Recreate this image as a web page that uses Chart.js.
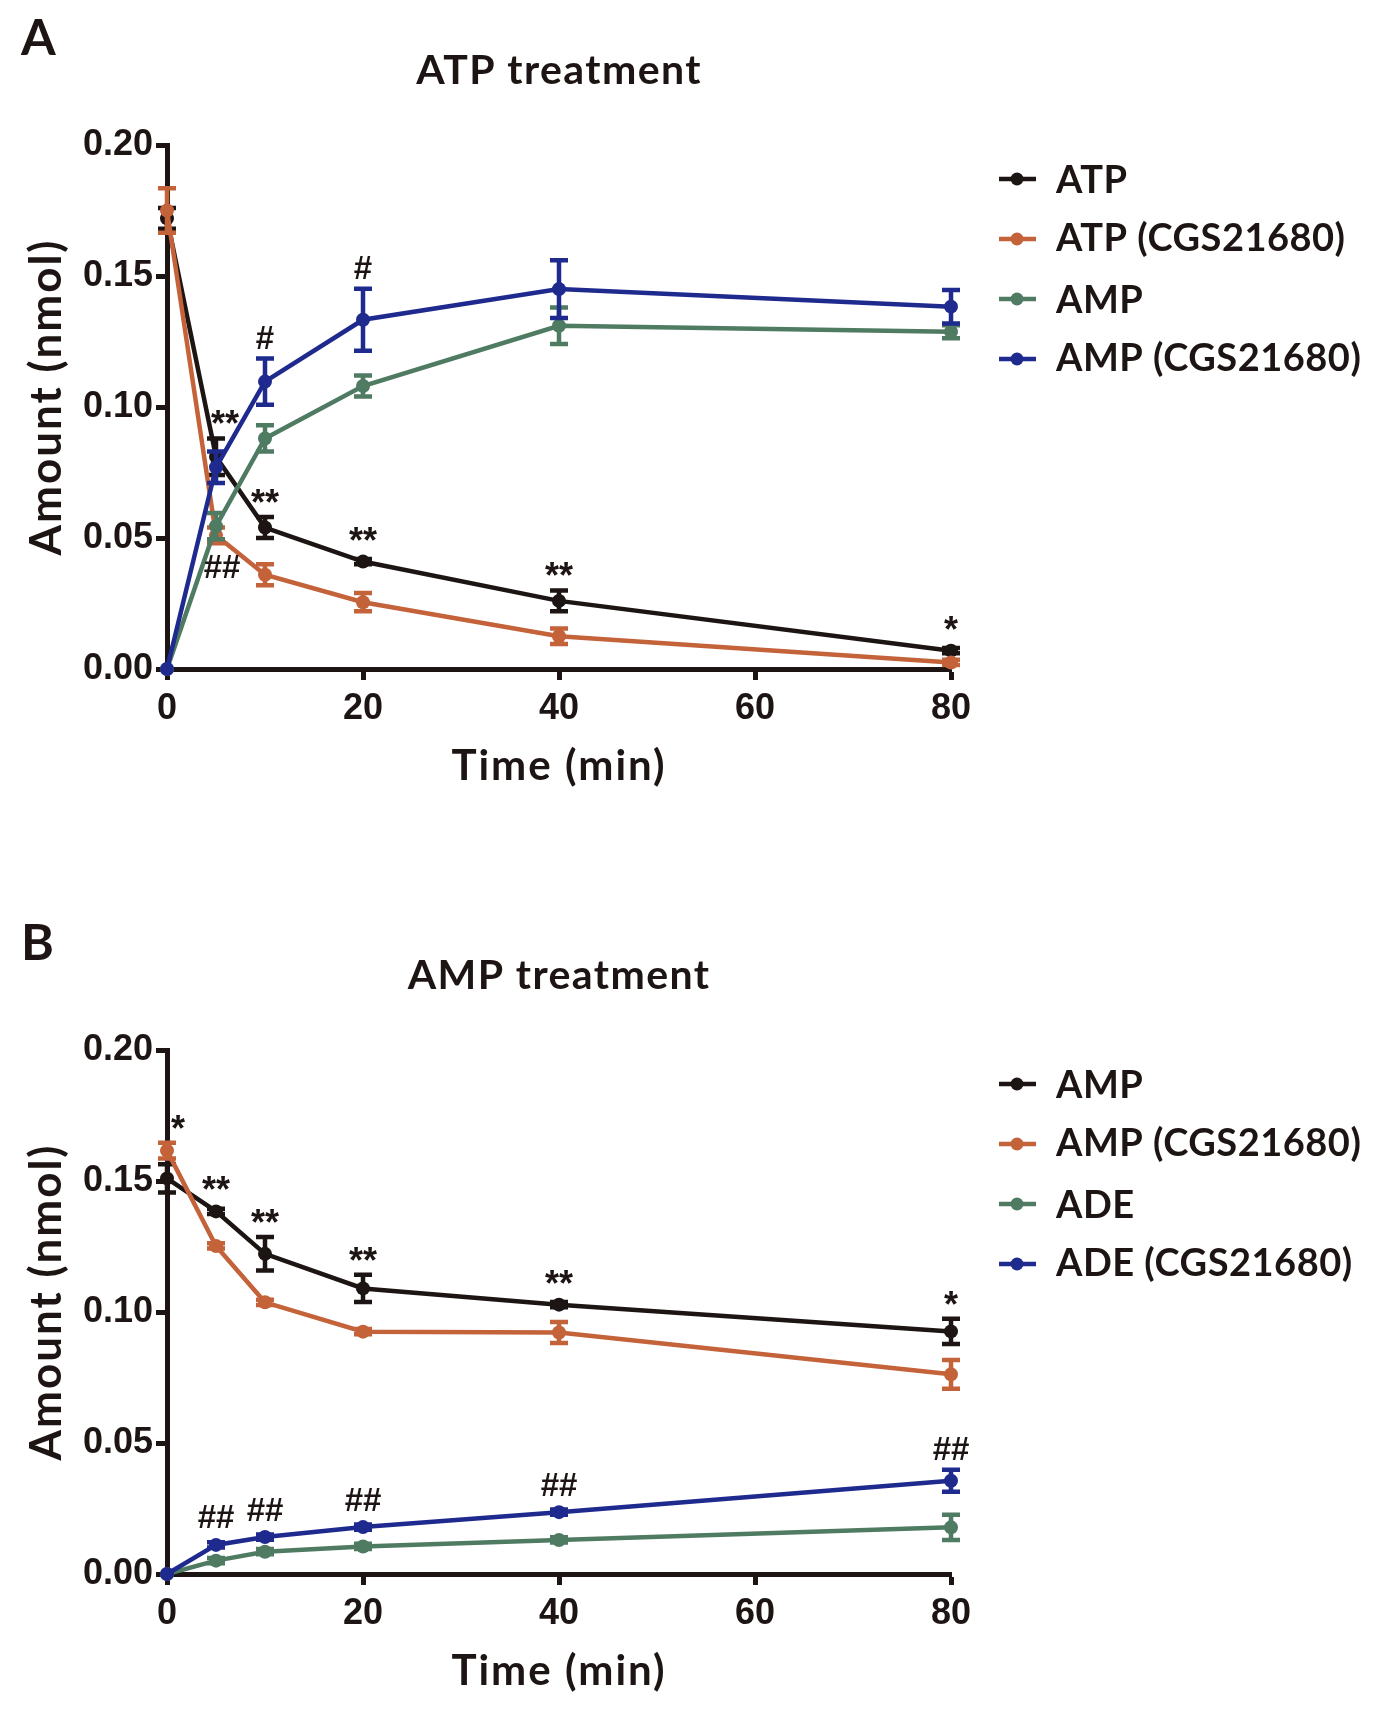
<!DOCTYPE html>
<html>
<head>
<meta charset="utf-8">
<script src="https://cdn.jsdelivr.net/npm/chart.js@4.4.1/dist/chart.umd.min.js"></script>
<style>
    html, body { margin: 0; padding: 0; background: #fff; }
    body { width: 1377px; height: 1710px; position: relative; overflow: hidden; }
    canvas { position: absolute; left: 0; }
    #panel-a { top: 0; }
    #panel-b { top: 905px; }
</style>
</head>
<body>
<canvas id="panel-a" width="1377" height="905"></canvas>
<canvas id="panel-b" width="1377" height="805"></canvas>
<script>
const times = [0, 5, 10, 20, 40, 80];
const xTicks = [0, 20, 40, 60, 80];
const yTicks = [0, 0.05, 0.1, 0.15, 0.2];

// Panel A: ATP treatment
const atpMean = [0.172, 0.081, 0.054, 0.041, 0.026, 0.007];
const atpErr = [0.004, 0.007, 0.004, 0.001, 0.004, 0.001];
const atpCgsMean = [0.175, 0.051, 0.036, 0.0255, 0.0125, 0.0025];
const atpCgsErr = [0.0085, 0.003, 0.004, 0.0035, 0.003, 0.001];
const ampMean = [0, 0.0545, 0.088, 0.108, 0.131, 0.1287];
const ampErr = [0, 0.005, 0.005, 0.004, 0.007, 0.0025];
const ampCgsMean = [0, 0.077, 0.1097, 0.1333, 0.145, 0.1383];
const ampCgsErr = [0, 0.006, 0.0088, 0.0118, 0.011, 0.0064];

// Panel B: AMP treatment
const ampBMean = [0.151, 0.1384, 0.1222, 0.109, 0.1028, 0.0926];
const ampBErr = [0.0054, 0.001, 0.0064, 0.0052, 0.001, 0.0048];
const ampCgsBMean = [0.1616, 0.1252, 0.1037, 0.0925, 0.0922, 0.0762];
const ampCgsBErr = [0.003, 0.001, 0.001, 0.001, 0.004, 0.0055];
const adeMean = [0, 0.0051, 0.0085, 0.0105, 0.013, 0.0178];
const adeErr = [0, 0.001, 0.001, 0.001, 0.001, 0.0048];
const adeCgsMean = [0, 0.0111, 0.0141, 0.0179, 0.0236, 0.0356];
const adeCgsErr = [0, 0.001, 0.001, 0.001, 0.001, 0.0042];

const labelsA = ['ATP', 'ATP (CGS21680)', 'AMP', 'AMP (CGS21680)'];
const labelsB = ['AMP', 'AMP (CGS21680)', 'ADE', 'ADE (CGS21680)'];

// significance marks: series index, time index, text
const marksA = [
    { series: 0, at: 1, text: '**', dx: 9 },
    { series: 0, at: 2, text: '**' },
    { series: 0, at: 3, text: '**' },
    { series: 0, at: 4, text: '**' },
    { series: 0, at: 5, text: '*' },
    { series: 3, at: 2, text: '#' },
    { series: 3, at: 3, text: '#' },
    { series: 2, at: 1, text: '##', below: true, dx: 6 },
];
const marksB = [
    { series: 1, at: 0, text: '*', dx: 11 },
    { series: 0, at: 1, text: '**' },
    { series: 0, at: 2, text: '**' },
    { series: 0, at: 3, text: '**' },
    { series: 0, at: 4, text: '**' },
    { series: 0, at: 5, text: '*' },
    { series: 3, at: 1, text: '##' },
    { series: 3, at: 2, text: '##' },
    { series: 3, at: 3, text: '##' },
    { series: 3, at: 4, text: '##' },
    { series: 3, at: 5, text: '##' },
];

const colors = ['#1c1513', '#c4623a', '#4f7b63', '#1f2a8f'];
const ink = '#1c1513';
const textFont = 'Lato, "Open Sans", sans-serif';
const numFont = '"Liberation Sans", Arial, sans-serif';

const errorBars = {
    id: 'errorBars',
    afterDatasetDraw(chart, args) {
        const ds = chart.data.datasets[args.index];
        if (!ds.err) return;
        const { ctx, scales } = chart;
        ctx.save();
        ctx.strokeStyle = ds.borderColor;
        ctx.lineWidth = 4.5;
        ds.data.forEach((p, i) => {
            const e = ds.err[i];
            if (!e) return;
            const x = scales.x.getPixelForValue(p.x);
            const y1 = scales.y.getPixelForValue(p.y + e);
            const y2 = scales.y.getPixelForValue(p.y - e);
            ctx.beginPath();
            ctx.moveTo(x, y1);
            ctx.lineTo(x, y2);
            ctx.moveTo(x - 9, y1);
            ctx.lineTo(x + 9, y1);
            ctx.moveTo(x - 9, y2);
            ctx.lineTo(x + 9, y2);
            ctx.stroke();
        });
        ctx.restore();
    },
};

function centeredText(ctx, text, x, cy) {
    const m = ctx.measureText(text);
    const base = cy + (m.actualBoundingBoxAscent - m.actualBoundingBoxDescent) / 2;
    ctx.fillText(text, x, base);
}

function setFont(ctx, size, spacing) {
    ctx.font = `bold ${size}px ${textFont}`;
    ctx.letterSpacing = spacing ? spacing + 'px' : '0px';
}

const decorations = {
    id: 'decorations',
    afterDraw(chart, args, opts) {
        const { ctx, chartArea, scales } = chart;
        const midX = (chartArea.left + chartArea.right) / 2;
        ctx.save();
        ctx.fillStyle = ink;
        ctx.textAlign = 'left';
        ctx.textBaseline = 'alphabetic';

        setFont(ctx, 50, 0);
        ctx.fillText(opts.letter, 21, 55);

        ctx.textAlign = 'center';
        setFont(ctx, 41, 1.4);
        ctx.fillText(opts.title, midX, 84);

        setFont(ctx, 42, 2);
        ctx.fillText('Time (min)', midX, 780);

        ctx.save();
        ctx.translate(47, 397);
        ctx.rotate(-Math.PI / 2);
        setFont(ctx, 44, 2);
        centeredText(ctx, 'Amount (nmol)', 0, 0);
        ctx.restore();

        // legend
        chart.data.datasets.forEach((ds, i) => {
            const y = 179 + i * 60;
            ctx.strokeStyle = ds.borderColor;
            ctx.lineWidth = 4.5;
            ctx.beginPath();
            ctx.moveTo(999, y);
            ctx.lineTo(1036, y);
            ctx.stroke();
            ctx.fillStyle = ds.borderColor;
            ctx.beginPath();
            ctx.arc(1017, y, 6.5, 0, Math.PI * 2);
            ctx.fill();
            ctx.fillStyle = ink;
            ctx.textAlign = 'left';
            setFont(ctx, 38, 0.5);
            centeredText(ctx, ds.label, 1056, y);
        });

        // significance marks
        ctx.textAlign = 'center';
        ctx.letterSpacing = '0px';
        opts.marks.forEach((mk) => {
            const ds = chart.data.datasets[mk.series];
            const p = ds.data[mk.at];
            const e = ds.err[mk.at] || 0;
            const x = scales.x.getPixelForValue(p.x) + (mk.dx || 0);
            ctx.font = mk.text.includes('*') ? `bold 36px ${numFont}` : `bold 33px ${numFont}`;
            let cy;
            if (mk.below) {
                cy = Math.max(scales.y.getPixelForValue(p.y - e), scales.y.getPixelForValue(p.y) + 7) + 27;
            } else {
                cy = Math.min(scales.y.getPixelForValue(p.y + e), scales.y.getPixelForValue(p.y) - 7) - 21;
            }
            centeredText(ctx, mk.text, x, cy);
        });
        ctx.restore();
    },
};

function series(labels, means, errs) {
    return labels.map((label, i) => ({
        label,
        data: times.map((t, j) => ({ x: t, y: means[i][j] })),
        err: errs[i],
        borderColor: colors[i],
        backgroundColor: colors[i],
        pointBackgroundColor: colors[i],
        pointBorderWidth: 0,
        pointRadius: 7,
        borderWidth: 4.5,
        tension: 0,
        clip: false,
        order: labels.length - i,
    }));
}

function axis(ticksList, extra) {
    return {
        type: 'linear',
        min: ticksList[0],
        max: ticksList[ticksList.length - 1],
        border: { display: true, color: ink, width: 5 },
        grid: { drawOnChartArea: false, drawTicks: true, tickLength: 11, tickWidth: 5, tickColor: ink },
        ticks: {
            color: ink,
            font: { family: numFont, weight: 'bold', size: 36 },
            ...extra.ticks,
        },
        afterBuildTicks: (scale) => {
            scale.ticks = ticksList.map((v) => ({ value: v }));
        },
        afterFit: extra.afterFit,
    };
}

function makeChart(id, height, letter, title, datasets, marks) {
    new Chart(document.getElementById(id), {
        type: 'line',
        data: { datasets },
        plugins: [errorBars, decorations],
        options: {
            responsive: false,
            animation: false,
            devicePixelRatio: 1,
            layout: { padding: { left: 0, top: 145, right: 426, bottom: height - 669 - 100 } },
            plugins: {
                legend: { display: false },
                tooltip: { enabled: false },
                decorations: { letter, title, marks },
            },
            scales: {
                x: axis(xTicks, {
                    ticks: { padding: 7, callback: (v) => String(v) },
                    afterFit: (s) => { s.height = 100; },
                }),
                y: axis(yTicks, {
                    ticks: { padding: 3, callback: (v) => v.toFixed(2) },
                    afterFit: (s) => { s.width = 167; },
                }),
            },
        },
    });
}

makeChart('panel-a', 905, 'A', 'ATP treatment',
    series(labelsA, [atpMean, atpCgsMean, ampMean, ampCgsMean], [atpErr, atpCgsErr, ampErr, ampCgsErr]), marksA);
makeChart('panel-b', 805, 'B', 'AMP treatment',
    series(labelsB, [ampBMean, ampCgsBMean, adeMean, adeCgsMean], [ampBErr, ampCgsBErr, adeErr, adeCgsErr]), marksB);
</script>
</body>
</html>
